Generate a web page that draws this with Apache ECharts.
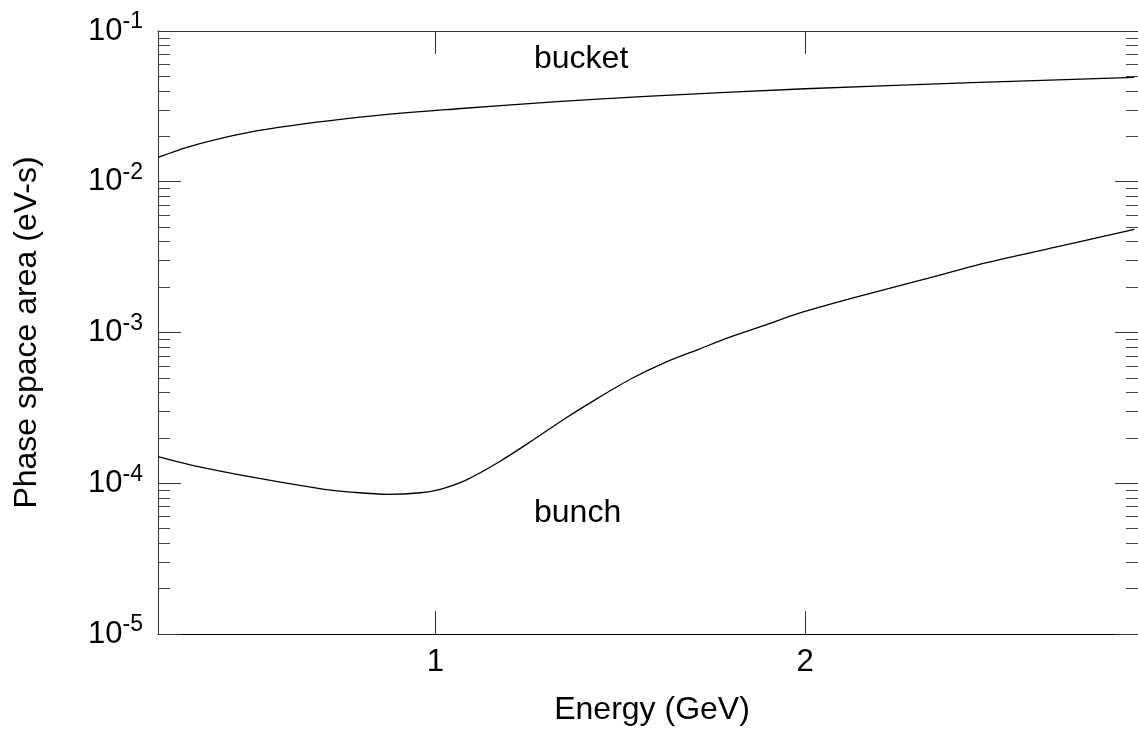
<!DOCTYPE html>
<html>
<head>
<meta charset="utf-8">
<script src="https://cdn.jsdelivr.net/npm/echarts@6/dist/echarts.min.js"></script>
<style>
  html, body { margin: 0; padding: 0; background: #fff; }
  #chart { width: 1138px; height: 736px; }
</style>
</head>
<body>
<div id="chart"></div>
<script>
// bucket area vs energy
const bucketEnergy = [0.25, 0.34, 0.52, 0.79, 1.06, 1.33, 1.57, 2.0, 2.45, 2.89];
const bucketArea = [0.01452, 0.01726, 0.0218, 0.02673, 0.0305, 0.034, 0.0368, 0.0414, 0.0454, 0.0492];

// bunch area vs energy
const bunchEnergy = [0.25, 0.34, 0.52, 0.70, 0.78, 0.87, 0.96, 1.013, 1.083, 1.173, 1.262, 1.352, 1.442,
  1.532, 1.622, 1.712, 1.80, 1.892, 1.982, 2.135, 2.315, 2.494, 2.674, 2.89];
const bunchArea = [1.50e-4, 1.32e-4, 1.08e-4, 9.12e-5, 8.7e-5, 8.45e-5, 8.65e-5, 9.12e-5, 1.05e-4, 1.39e-4, 1.92e-4,
  2.70e-4, 3.70e-4, 4.97e-4, 6.34e-4, 7.74e-4, 9.38e-4, 1.12e-3, 1.34e-3, 1.71e-3, 2.23e-3, 2.92e-3, 3.67e-3, 4.83e-3];

const xTicks = [1, 2];
const yMajor = [1e-5, 1e-4, 1e-3, 1e-2, 1e-1];
const yMinor = [];
for (let e = -5; e < -1; e++) {
  for (let m = 2; m <= 9; m++) yMinor.push(m * Math.pow(10, e));
}

const FONT = 'Liberation Sans, Arial, sans-serif';
const FS = 32;   // titles and notes
const TS = 31;   // tick labels
const rect = { left: 158, right: -2, top: 31, bottom: 102 };

const chart = echarts.init(document.getElementById('chart'));

const xBase = { type: 'value', min: 0.25, max: 2.9, splitLine: { show: false } };
const yBase = { type: 'log', logBase: 10, min: 1e-5, max: 1e-1, splitLine: { show: false } };

chart.setOption({
  animation: false,
  grid: [
    Object.assign({}, rect),
    Object.assign({}, rect),
    Object.assign({}, rect)
  ],
  xAxis: [
    Object.assign({}, xBase, {
      gridIndex: 0, position: 'bottom',
      name: 'Energy (GeV)', nameLocation: 'middle', nameGap: 60,
      nameTextStyle: { fontSize: FS, color: '#000', fontFamily: FONT, padding: [0, 0, 0, 8] },
      axisLine: { lineStyle: { color: '#000', width: 1 } },
      axisTick: { inside: true, length: 23, customValues: xTicks, lineStyle: { color: '#333' } },
      axisLabel: { customValues: xTicks, margin: 13, fontSize: TS, color: '#000', fontFamily: FONT }
    }),
    Object.assign({}, xBase, {
      gridIndex: 1, position: 'top',
      axisLine: { lineStyle: { color: '#333', width: 1 } },
      axisTick: { inside: true, length: 23, customValues: xTicks, lineStyle: { color: '#333' } },
      axisLabel: { show: false }
    }),
    Object.assign({}, xBase, {
      gridIndex: 2, show: false
    })
  ],
  yAxis: [
    Object.assign({}, yBase, {
      gridIndex: 0, position: 'left',
      name: 'Phase space area (eV-s)', nameLocation: 'middle', nameGap: 115,
      nameTextStyle: { fontSize: FS, color: '#000', fontFamily: FONT },
      axisLine: { show: true, lineStyle: { color: '#333', width: 1 } },
      axisTick: { inside: true, length: 23, customValues: yMajor, lineStyle: { color: '#333' } },
      axisLabel: {
        customValues: yMajor, margin: 15,
        formatter: v => '{b|10}{s|' + Math.round(Math.log10(v)) + '}',
        rich: {
          b: { fontSize: TS, color: '#000', fontFamily: FONT },
          s: { fontSize: 23, color: '#000', fontFamily: FONT, verticalAlign: 'top', padding: [0, 0, 18, 0] }
        }
      }
    }),
    Object.assign({}, yBase, {
      gridIndex: 1, position: 'right',
      axisLine: { show: true, lineStyle: { color: '#333', width: 1 } },
      axisTick: { inside: true, length: 23, customValues: yMajor, lineStyle: { color: '#333' } },
      axisLabel: { show: false }
    }),
    Object.assign({}, yBase, {
      gridIndex: 2, position: 'left',
      axisLine: { show: false },
      axisTick: { inside: true, length: 12, customValues: yMinor, lineStyle: { color: '#444' } },
      axisLabel: { show: false }
    }),
    Object.assign({}, yBase, {
      gridIndex: 2, position: 'right',
      axisLine: { show: false },
      axisTick: { inside: true, length: 12, customValues: yMinor, lineStyle: { color: '#444' } },
      axisLabel: { show: false }
    })
  ],
  series: [
    {
      name: 'bucket', type: 'line', xAxisIndex: 0, yAxisIndex: 0,
      data: bucketEnergy.map((e, i) => [e, bucketArea[i]]),
      smooth: 0.3, showSymbol: false, lineStyle: { color: '#000', width: 1.3 }
    },
    {
      name: 'bunch', type: 'line', xAxisIndex: 0, yAxisIndex: 0,
      data: bunchEnergy.map((e, i) => [e, bunchArea[i]]),
      smooth: 0.3, showSymbol: false, lineStyle: { color: '#000', width: 1.3 }
    }
  ],
  graphic: [
    { type: 'text', left: 534, top: 43, style: { text: 'bucket', fontSize: FS, fill: '#000', fontFamily: FONT } },
    { type: 'text', left: 534, top: 497, style: { text: 'bunch', fontSize: FS, fill: '#000', fontFamily: FONT } }
  ]
});
</script>
</body>
</html>
